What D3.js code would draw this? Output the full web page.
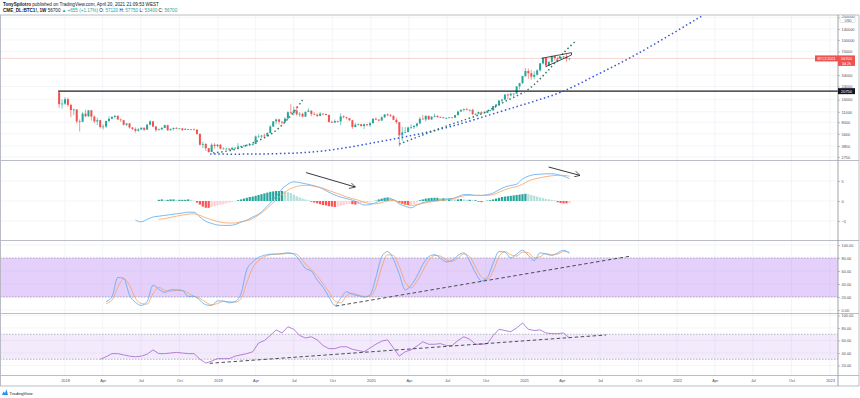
<!DOCTYPE html>
<html>
<head>
<meta charset="utf-8">
<script src="https://cdn.jsdelivr.net/npm/d3@7"></script>
<style>
  html, body { margin: 0; padding: 0; background: #fff; }
  svg { display: block; font-family: "Liberation Sans", Arial, sans-serif; }
</style>
</head>
<body>
<svg id="chart" width="860" height="398"></svg>
<script>
// ---- data (weekly CME BTC1!, bar 0 = week of 2017-12-18) ----
const firstOpen = 20000;
const weeklyClose = [
  13900,14150,16200,13600,11600,11800,8200,8100,10400,9600,
  11500,9500,8200,8500,6900,7000,8300,8900,9400,9700,
  8700,8500,7400,7700,6800,6500,6150,6400,6750,6350,
  7400,8200,7000,6300,6400,6700,7300,6250,6500,6700,
  6600,6600,6300,6450,6350,6400,6350,5600,4000,4100,
  3600,3200,4000,3850,4000,3550,3550,3550,3450,3650,
  3650,3800,3850,3900,4000,4000,4100,5150,5150,5300,
  5200,5750,7000,8200,8700,8100,8000,8950,10850,10600,
  11450,10200,10350,9500,11000,11400,10300,10100,9700,10400,
  10300,10000,8050,7900,8300,8200,9550,9300,9050,8500,
  6900,7400,7500,7100,7500,7300,7750,8900,8650,8400,
  9300,10150,9900,9700,8600,8000,5350,5850,5900,6800,
  6900,7150,7700,8900,8700,9700,8700,9450,9700,9350,
  9300,9100,9100,9250,9200,9950,11100,11700,11900,11650,
  11700,10300,10350,10900,10750,10650,11350,11500,13100,13750,
  15500,16000,18700,18200,19150,19250,24000,26500,33000,38500,
  36000,32300,34300,39300,48600,57500,45500,50900,61000,57300,
  55900,59000,60000,56000,56700
];
const weeklyHigh = [
  20750,16000,17300,17000,14100,12200,12000,8700,10900,11700,
  11600,11700,9900,9200,8600,7500,8400,9600,9700,10000,
  9900,8900,8600,7800,7800,6900,6800,6700,6800,6800,
  7600,8500,8300,7100,6600,6900,7400,7400,6600,6800,
  6900,6700,6700,6700,6500,6500,6600,6400,5600,4400,
  4200,3600,4200,4200,4100,4100,3700,3650,3600,3700,
  3700,4200,3900,4000,4050,4100,4150,5300,5500,5400,
  5650,5900,7300,8300,8900,8900,8300,9300,11200,13900,
  12900,13100,10900,10700,11100,12300,11500,10900,10500,10900,
  10500,10400,10100,8400,8700,8400,10500,9900,9500,9100,
  8600,7800,7700,7600,7700,7600,8100,9000,9300,8800,
  9600,10200,10500,10300,9900,9200,8100,6900,6900,7000,
  7500,7300,7800,9400,10000,9900,9900,9600,10400,9900,
  9600,9400,9300,9400,9400,10000,11400,11800,12200,12400,
  11800,12100,10500,11100,11200,10900,11400,11700,13300,14000,
  15800,16500,18800,19400,19900,19500,24300,26800,33300,42000,
  41500,40000,38500,40500,49700,58400,58300,52600,61800,61800,
  59500,60200,61100,65000,57750
];
const weeklyLow = [
  12400,12100,13600,12800,9300,10000,7700,6000,8000,9300,
  9400,8400,7800,7300,6600,6400,6700,8000,8700,9000,
  8500,8100,7200,7100,6600,6300,5800,6000,6300,6100,
  6300,7300,6900,5900,6200,6300,6700,6100,6200,6200,
  6500,6500,6100,6300,6300,6300,6300,5400,3900,3600,
  3300,3150,3200,3550,3700,3500,3500,3450,3350,3400,
  3550,3650,3700,3800,3850,3900,3900,4100,5000,4950,
  5100,5200,5700,6900,7500,7500,7500,7900,8900,10300,
  9800,9800,9400,9300,9400,11000,9600,9900,9400,9600,
  9900,9800,7900,7800,7800,7900,7300,9000,8700,8300,
  6500,6800,7200,7000,6500,7100,6900,7700,8500,8200,
  8400,9100,9600,9400,8500,7600,3800,4500,5700,5900,
  6500,6500,6800,7500,8700,8200,8600,8600,9300,9200,
  9100,8900,8900,9100,9100,9150,9900,11000,11100,11500,
  11100,9900,9900,10200,10200,10400,10600,11200,11400,12800,
  13200,14800,15800,16200,17600,17600,19100,21900,26100,32000,
  30300,29500,30000,33400,37900,47000,43000,45000,49200,53100,
  50400,55500,55500,51300,53400
];
const priceTicks = [200000,140000,100000,70000,34000,24000,16000,11000,8000,5600,3850,2750];
const resistanceLevel = 20750;
const lastPrice = 56700;

// indicators (week index start, 2-week step unless noted)
const macdStart = 26;
const macdLine = [
  -4.8,-5.2,-4.6,-4.0,-3.8,-3.6,-3.4,-3.2,-3.0,-2.8,
  -2.8,-4.0,-5.1,-5.6,-6.0,-6.1,-6.1,-5.9,-5.3,-4.8,
  -4.0,-3.3,-2.0,-0.5,1.2,3.0,4.2,4.8,4.6,4.3,
  4.0,3.6,3.0,2.2,1.5,1.0,0.6,0.2,-0.4,-1.0,
  -0.9,-0.4,0.2,0.6,0.3,-0.7,-1.3,-1.7,-1.0,-0.4,
  -0.1,0.1,0.3,0.5,0.6,1.1,1.6,1.6,1.4,1.4,
  1.6,2.0,2.8,3.5,3.9,4.2,5.5,6.2,6.6,6.7,
  6.8,6.8,6.6,6.2,5.6
];
const signalStart = 34;
const macdSignal = [
  -4.6,-4.4,-4.1,-3.8,-3.5,-3.3,-3.2,-3.6,-4.2,-4.7,
  -5.1,-5.4,-5.5,-5.5,-5.2,-4.9,-4.4,-3.5,-2.4,-1.1,
  0.3,1.6,2.7,3.4,3.8,3.9,3.8,3.5,3.2,2.6,
  2.1,1.6,1.0,0.6,0.2,-0.3,-0.6,-0.7,-0.4,0.0,
  0.1,-0.3,-0.8,-1.1,-0.9,-0.6,-0.3,-0.1,0.1,0.3,
  0.5,0.9,1.3,1.4,1.4,1.4,1.4,1.6,2.2,2.8,
  3.3,3.6,4.2,5.0,5.5,5.8,6.1,6.3,6.4,6.4,
  6.2
];
const histStart = 34; // one value per week
const macdHist = [
  0.3,0.4,0.3,0.3,0.4,0.4,0.3,0.3,0.3,0.3,0.4,0.3,0.1,
  -0.4,-0.9,-1.4,-1.7,-1.7,-1.5,-1.3,-1.1,-0.9,-0.8,-0.6,-0.4,-0.3,-0.1,
  0.2,0.4,0.6,0.8,1.0,1.1,1.3,1.5,1.7,1.9,2.1,2.3,2.4,2.5,2.5,2.5,2.4,2.2,2.0,1.6,1.2,0.9,0.6,0.4,0.2,
  -0.2,-0.4,-0.6,-0.8,-1.0,-1.1,-1.3,-1.4,-1.5,-1.4,-1.2,-1.0,-0.8,-0.7,-0.8,-0.9,-0.7,-0.5,
  -0.4,-0.3,-0.2,-0.1,0.1,
  0.4,0.6,0.8,0.9,0.8,0.5,0.2,
  -0.4,-0.7,-0.9,-1.0,-0.9,-0.7,-0.4,
  0.2,0.4,0.6,0.7,0.8,0.8,0.8,0.7,0.7,0.6,0.6,0.5,0.4,
  0.4,0.5,0.4,0.3,0.3,0.2,0.2,-0.2,-0.3,-0.1,0.1,0.2,
  0.4,0.6,0.8,1.0,1.1,1.2,1.3,1.4,1.5,1.6,1.7,1.8,1.7,1.5,1.3,1.1,0.9,0.7,0.5,0.4,0.3,0.2,
  -0.3,-0.5,-0.6,-0.6,-0.5
];
const stochStart = 16;
const stochK = [
  13,20,50,49,23,12,7,13,38,32,
  27,31,31,30,21,21,15,8,7,14,
  14,11,13,25,62,74,81,84,86,86,
  87,88,86,76,64,60,46,35,20,7,
  18,28,24,22,20,23,50,82,90,78,
  55,31,38,52,70,82,85,80,74,76,
  84,88,75,57,45,50,72,90,89,80,
  86,92,84,76,88,86,84,88,92,87
];
const stochD = [
  10,15,35,48,38,18,10,9,25,35,
  30,29,30,30,26,21,18,12,8,10,
  13,13,12,17,42,65,76,82,85,86,
  86,87,87,82,71,62,53,40,28,14,
  11,22,26,23,21,21,35,66,85,84,
  67,43,34,44,60,76,84,83,77,75,
  80,86,82,66,51,47,60,82,90,85,
  83,89,88,80,82,87,85,86,90,89
];
const rsiStart = 14;
const rsiValues = [
  30,34,39,39,37,35,34,35,38,45,
  39,39,40,41,40,39,39,30,24,27,
  31,31,31,35,37,39,42,56,60,68,
  77,72,82,78,68,64,66,61,52,47,
  47,50,50,46,44,42,48,54,59,61,
  48,35,42,45,51,58,54,54,55,52,
  52,60,66,62,54,54,55,68,78,76,
  74,80,88,78,76,77,72,71,71,72,
  64
];

// drawings: [week index, value]
const blueCurve = [[51.5,3013],[86.4,3206],[115.9,4932],[132.9,6900],[150,10940],[161.2,14900],[171.3,20250],[183.9,35150],[197.7,67000],[219.7,215000]];
const greenCurve1 = [[52.5,3112],[59.2,3412],[66,4230],[72.8,5740],[78.6,9400],[83,15800]];
const greenCurve2 = [[116,4100],[132.9,7300],[144.1,10400],[152.2,15200],[160,22000],[165.9,36200],[172,67000],[176.1,96800]];
const wedgeUpper = [[164.5,56900],[174.7,67600]];
const wedgeLower = [[165.9,43950],[174.7,62950]];
const macdArrows = [[[84.2,7.1],[101,3.5]], [[166.9,8.5],[177.6,6.4]]];
const stochTrend = [[94.3,6],[195,83]];
const rsiTrend = [[51.3,23.5],[186.5,68.8]];

// ---- layout ----
const axisX = 838;
const panes = {
  price: {top: 15, bottom: 160},
  macd:  {top: 161, bottom: 240},
  stoch: {top: 241, bottom: 313},
  rsi:   {top: 314, bottom: 375}
};
const gridColor = "#eef1f6";
const textColor = "#4c4f59";
const upColor = "#26a69a", downColor = "#ef5350";

const svg = d3.select("#chart");
const weekDate = i => new Date(Date.UTC(2017, 11, 18) + i * 7 * 864e5);

const x = d3.scaleUtc()
  .domain([new Date(Date.UTC(2018, 0, 1)), new Date(Date.UTC(2023, 0, 1))])
  .range([65, 830]);
const xi = i => x(weekDate(i));

const yPrice = d3.scaleLog().domain([2506, 215000]).range([160, 15]);
const yMacd = d3.scaleLinear().domain([-9.75, 10]).range([240, 161]);
const yStoch = d3.scaleLinear().domain([0, 100]).range([310, 245]);
const yRsi = d3.scaleLinear().domain([0, 100]).range([378, 315.5]);

// clip paths per pane
const defs = svg.append("defs");
Object.entries(panes).forEach(([k, p]) => {
  defs.append("clipPath").attr("id", "clip-" + k)
    .append("rect").attr("x", 0).attr("y", p.top).attr("width", axisX).attr("height", p.bottom - p.top);
});
const marker = defs.append("marker")
  .attr("id", "arrow").attr("viewBox", "0 0 10 10").attr("refX", 9).attr("refY", 5)
  .attr("markerWidth", 7).attr("markerHeight", 7).attr("orient", "auto");
marker.append("path").attr("d", "M0,0 L9,5 L0,10").attr("fill", "none").attr("stroke", "#222").attr("stroke-width", 1.1);

// ---- header ----
const header = svg.append("g").attr("font-size", 4.6).attr("fill", "#131722");
const h1 = header.append("text").attr("x", 3).attr("y", 5.5);
h1.append("tspan").attr("font-weight", "bold").text("TonySpilotro");
h1.append("tspan").text(" published on TradingView.com, April 20, 2021 21:09:53 WEST");
const h2 = header.append("text").attr("x", 3).attr("y", 11.5);
h2.append("tspan").attr("font-weight", "bold").text("CME_DL:BTC1!, 1W ");
h2.append("tspan").text(" 56700 ");
h2.append("tspan").attr("fill", upColor).text("▲ +655 (+1.17%) ");
h2.append("tspan").text("O: ");
h2.append("tspan").attr("fill", upColor).text("57120 ");
h2.append("tspan").text("H: ");
h2.append("tspan").attr("fill", upColor).text("57750 ");
h2.append("tspan").text("L: ");
h2.append("tspan").attr("fill", upColor).text("53400 ");
h2.append("tspan").text("C: ");
h2.append("tspan").attr("fill", upColor).text("56700");

// ---- grid ----
const timeTicks = d3.utcMonth.every(3).range(new Date(Date.UTC(2018, 0, 1)), new Date(Date.UTC(2023, 0, 2)));
const grid = svg.append("g");
grid.selectAll("line.v").data(timeTicks).join("line")
  .attr("x1", d => x(d)).attr("x2", d => x(d))
  .attr("y1", 15).attr("y2", 375)
  .attr("stroke", gridColor).attr("stroke-width", 0.7);

function hGrid(values, scale) {
  grid.append("g").selectAll("line").data(values).join("line")
    .attr("x1", 0).attr("x2", axisX)
    .attr("y1", d => scale(d)).attr("y2", d => scale(d))
    .attr("stroke", gridColor).attr("stroke-width", 0.7);
}
hGrid(priceTicks, yPrice);
hGrid([5, 0, -5], yMacd);
hGrid([100, 80, 60, 40, 20, 0], yStoch);
hGrid([100, 80, 60, 40, 20], yRsi);

// ---- bands ----
function band(scale, hi, lo, fill) {
  svg.append("rect").attr("x", 0).attr("width", axisX)
    .attr("y", scale(hi)).attr("height", scale(lo) - scale(hi)).attr("fill", fill);
  [hi, lo].forEach(v => svg.append("line")
    .attr("x1", 0).attr("x2", axisX).attr("y1", scale(v)).attr("y2", scale(v))
    .attr("stroke", "#8a8d96").attr("stroke-width", 0.6).attr("stroke-dasharray", "1.5,1.5"));
}
band(yStoch, 80, 20, "rgba(178,120,240,0.35)");
band(yRsi, 70, 30, "rgba(190,140,240,0.18)");

// ---- price pane ----
const pricePane = svg.append("g").attr("clip-path", "url(#clip-price)");

pricePane.append("line")
  .attr("x1", 0).attr("x2", axisX)
  .attr("y1", yPrice(lastPrice)).attr("y2", yPrice(lastPrice))
  .attr("stroke", "rgba(239,83,80,0.35)").attr("stroke-width", 0.7);

const candles = weeklyClose.map((c, i) => ({
  i, open: i === 0 ? firstOpen : weeklyClose[i - 1], high: weeklyHigh[i], low: weeklyLow[i], close: c
}));
const cg = pricePane.append("g").selectAll("g").data(candles).join("g")
  .attr("stroke", d => d.close >= d.open ? upColor : downColor)
  .attr("fill", d => d.close >= d.open ? upColor : downColor);
cg.append("line")
  .attr("x1", d => xi(d.i)).attr("x2", d => xi(d.i))
  .attr("y1", d => yPrice(d.high)).attr("y2", d => yPrice(d.low))
  .attr("stroke-width", 0.6);
cg.append("rect")
  .attr("x", d => xi(d.i) - 1).attr("width", 2)
  .attr("y", d => yPrice(Math.max(d.open, d.close)))
  .attr("height", d => Math.max(0.7, Math.abs(yPrice(d.open) - yPrice(d.close))))
  .attr("stroke", "none");

pricePane.append("line")
  .attr("x1", xi(0) - 1).attr("x2", axisX)
  .attr("y1", yPrice(resistanceLevel)).attr("y2", yPrice(resistanceLevel))
  .attr("stroke", "#1e1e1e").attr("stroke-width", 1.2);

const priceLine = d3.line().curve(d3.curveCatmullRom)
  .x(d => xi(d[0])).y(d => yPrice(d[1]));
function dotted(points, color) {
  pricePane.append("path").attr("d", priceLine(points))
    .attr("fill", "none").attr("stroke", color).attr("stroke-width", 1.5)
    .attr("stroke-dasharray", "1.5,2.6");
}
dotted(blueCurve, "#3556d6");
dotted(greenCurve1, "#2f7a64");
dotted(greenCurve2, "#2f7a64");

const straight = d3.line().x(d => xi(d[0])).y(d => yPrice(d[1]));
[wedgeUpper, wedgeLower].forEach(l => pricePane.append("path").attr("d", straight(l))
  .attr("fill", "none").attr("stroke", "#222").attr("stroke-width", 0.8));
pricePane.append("path")
  .attr("d", straight([wedgeUpper[1], wedgeLower[1]]))
  .attr("fill", "none").attr("stroke", "#222").attr("stroke-width", 0.8);

// ---- MACD pane ----
const macdPane = svg.append("g").attr("clip-path", "url(#clip-macd)");
const hist = macdHist.map((v, k) => ({i: histStart + k, v, prev: k ? macdHist[k - 1] : 0}));
macdPane.append("g").selectAll("rect").data(hist).join("rect")
  .attr("x", d => xi(d.i) - 1.1).attr("width", 2.2)
  .attr("y", d => yMacd(Math.max(0, d.v)))
  .attr("height", d => Math.abs(yMacd(d.v) - yMacd(0)))
  .attr("fill", d => d.v >= 0 ? (d.v >= d.prev ? "#26a69a" : "#b2dfdb") : (d.v <= d.prev ? "#ff5252" : "#ffcdd2"));

const seriesLine = (start, step, scale) => d3.line().curve(d3.curveMonotoneX)
  .x((d, k) => xi(start + k * step)).y(d => scale(d));
macdPane.append("path").attr("d", seriesLine(macdStart, 2, yMacd)(macdLine))
  .attr("fill", "none").attr("stroke", "#5aa9f0").attr("stroke-width", 0.8);
macdPane.append("path").attr("d", seriesLine(signalStart, 2, yMacd)(macdSignal))
  .attr("fill", "none").attr("stroke", "#f7a15e").attr("stroke-width", 0.8);

const macdPt = d3.line().x(d => xi(d[0])).y(d => yMacd(d[1]));
macdArrows.forEach(a => macdPane.append("path").attr("d", macdPt(a))
  .attr("fill", "none").attr("stroke", "#222").attr("stroke-width", 0.9)
  .attr("marker-end", "url(#arrow)"));

// ---- Stoch RSI pane ----
const stochPane = svg.append("g").attr("clip-path", "url(#clip-stoch)");
stochPane.append("path").attr("d", seriesLine(stochStart, 2, yStoch)(stochD))
  .attr("fill", "none").attr("stroke", "#f7a15e").attr("stroke-width", 0.8);
stochPane.append("path").attr("d", seriesLine(stochStart, 2, yStoch)(stochK))
  .attr("fill", "none").attr("stroke", "#5aa9f0").attr("stroke-width", 0.8);
stochPane.append("path")
  .attr("d", d3.line().x(d => xi(d[0])).y(d => yStoch(d[1]))(stochTrend))
  .attr("fill", "none").attr("stroke", "#3a3a44").attr("stroke-width", 0.9).attr("stroke-dasharray", "3.5,2.5");

// ---- RSI pane ----
const rsiPane = svg.append("g").attr("clip-path", "url(#clip-rsi)");
rsiPane.append("path").attr("d", d3.line().x((d, k) => xi(rsiStart + k * 2)).y(d => yRsi(d))(rsiValues))
  .attr("fill", "none").attr("stroke", "#a463cf").attr("stroke-width", 0.8);
rsiPane.append("path")
  .attr("d", d3.line().x(d => xi(d[0])).y(d => yRsi(d[1]))(rsiTrend))
  .attr("fill", "none").attr("stroke", "#3a3a44").attr("stroke-width", 0.9).attr("stroke-dasharray", "3.5,2.5");

// ---- frame ----
const frame = svg.append("g").attr("stroke", "#b2b5be").attr("stroke-width", 0.9);
[15, 160.5, 240.5, 313.5, 375.5, 386].forEach(yv =>
  frame.append("line").attr("x1", 0).attr("x2", 859).attr("y1", yv).attr("y2", yv));
frame.append("line").attr("x1", axisX).attr("x2", axisX).attr("y1", 15).attr("y2", 386).attr("stroke", "#9598a1");
frame.append("line").attr("x1", 0.5).attr("x2", 0.5).attr("y1", 15).attr("y2", 386);
frame.append("line").attr("x1", 859).attr("x2", 859).attr("y1", 15).attr("y2", 386);

// ---- axes ----
function rightAxis(scale, values, fmt) {
  const g = svg.append("g").attr("transform", `translate(${axisX},0)`)
    .call(d3.axisRight(scale).tickValues(values).tickSize(2).tickPadding(1.5).tickFormat(fmt));
  g.select(".domain").remove();
  g.selectAll("line").attr("stroke", "#9598a1").attr("stroke-width", 0.6);
  g.selectAll("text").attr("font-size", 3.9).attr("fill", textColor).attr("font-family", "Liberation Sans, Arial, sans-serif");
  return g;
}
rightAxis(yPrice, priceTicks, d3.format("d"));
rightAxis(yMacd, [5, 0, -5], d3.format("d"));
rightAxis(yStoch, [100, 80, 60, 40, 20, 0], d3.format(".2f"));
rightAxis(yRsi, [100, 80, 60, 40, 20], d3.format(".2f"));

svg.append("rect").attr("x", 840).attr("y", 14.5).attr("width", 15).attr("height", 8)
  .attr("fill", "#fff").attr("stroke", "#c9ccd3").attr("stroke-width", 0.5);
svg.append("text").attr("x", 841.5).attr("y", 18).attr("font-size", 3.9).attr("fill", textColor).text("200000");
svg.append("text").attr("x", 844.5).attr("y", 21.8).attr("font-size", 3.4).attr("fill", textColor).text("USD");

const tAxis = svg.append("g").attr("transform", "translate(0,379)")
  .call(d3.axisBottom(x).tickValues(timeTicks).tickSize(0).tickPadding(0)
    .tickFormat(d => d.getUTCMonth() === 0 ? d3.utcFormat("%Y")(d) : d3.utcFormat("%b")(d)));
tAxis.select(".domain").remove();
tAxis.selectAll("text").attr("font-size", 3.9).attr("fill", textColor).attr("dy", "0.75em");

// ---- price labels ----
const yl = yPrice(lastPrice);
svg.append("rect").attr("x", 815).attr("y", yl - 3).attr("width", 23).attr("height", 6).attr("fill", "#ef5350");
svg.append("text").attr("x", 826.5).attr("y", yl + 1.4).attr("text-anchor", "middle")
  .attr("font-size", 3.6).attr("fill", "#fff").text("BTC1!2021");
svg.append("rect").attr("x", axisX).attr("y", yl - 3).attr("width", 17).attr("height", 10.5).attr("fill", "#ef5350");
svg.append("text").attr("x", 846.5).attr("y", yl + 1.4).attr("text-anchor", "middle")
  .attr("font-size", 3.9).attr("fill", "#fff").text("56700");
svg.append("text").attr("x", 846.5).attr("y", yl + 6.2).attr("text-anchor", "middle")
  .attr("font-size", 3.6).attr("fill", "#fff").text("3d 2h");

const yr = yPrice(resistanceLevel);
svg.append("rect").attr("x", axisX).attr("y", yr - 3).attr("width", 17).attr("height", 6).attr("fill", "#131722");
svg.append("text").attr("x", 846.5).attr("y", yr + 1.4).attr("text-anchor", "middle")
  .attr("font-size", 3.9).attr("fill", "#fff").text("20750");

// ---- footer logo ----
const logo = svg.append("g").attr("transform", "translate(2,389)");
logo.append("path").attr("d", "M0,6 L1.5,2.5 L3,4 L4.5,0.5 L6,6 Z").attr("fill", "#2196f3");
logo.append("text").attr("x", 7.5).attr("y", 5.5).attr("font-size", 4.2).attr("fill", "#131722").text("TradingView");
</script>
</body>
</html>
